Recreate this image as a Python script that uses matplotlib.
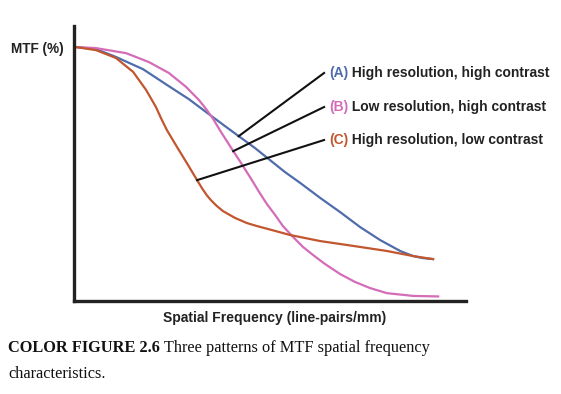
import matplotlib
matplotlib.use('Agg')
import matplotlib.pyplot as plt

# spatial frequency (arbitrary units) and MTF (%)
freq_a = [0.5, 5.6, 10.7, 17.6, 24.2, 29.3, 34.4, 38.5, 42.3, 46.2, 50.0, 53.8, 57.7, 62.8, 67.9,
          73.0, 78.1, 83.2, 86.5, 89.0, 91.6]
mtf_a = [100, 99.2, 96.1, 91.3, 84.6, 79.5, 73.6, 68.9, 64.6, 60.2, 55.5, 50.8, 46.5, 40.6, 35.0,
         29.1, 24.0, 19.7, 17.7, 16.9, 16.5]

freq_b = [0.5, 5.6, 13.3, 19.1, 24.2, 28.6, 31.9, 33.7, 35.5, 37.2, 39.8, 42.3, 44.9, 47.4, 49.2,
          51.3, 53.3, 55.9, 58.4, 61.0, 64.0, 67.9, 71.7, 75.5, 79.8, 86.5, 92.9]
mtf_b = [100, 99.6, 97.6, 94.1, 89.8, 84.3, 79.1, 75.6, 71.7, 67.3, 61.0, 55.1, 48.8, 42.5, 38.2,
         33.9, 29.5, 25.2, 21.3, 18.1, 14.6, 10.6, 7.5, 5.1, 3.1, 2.0, 1.8]

freq_c = [0.5, 5.6, 10.7, 15.1, 18.4, 20.9, 22.2, 23.7, 26.3, 28.8, 31.4, 32.7, 33.9, 35.0, 36.3,
          38.0, 41.1, 44.1, 46.7, 51.3, 55.1, 62.8, 71.2, 79.8, 86.5, 91.6]
mtf_c = [100, 98.8, 95.7, 90.2, 83.1, 76.4, 72.0, 67.3, 60.6, 54.3, 47.6, 44.3, 41.6, 39.6, 37.6,
         35.4, 32.7, 30.7, 29.5, 27.6, 26.0, 23.6, 21.7, 19.7, 17.7, 16.5]

tags = ['(A)', '(B)', '(C)']
labels = ['High resolution, high contrast', 'Low resolution, high contrast', 'High resolution, low contrast']
colors = ['#4f6cab', '#d46cb8', '#c2562f']

# where each pointer touches its curve
pointer_at = [(42.0, 64.9), (40.6, 59.0), (31.4, 47.6)]
label_y = [89.8, 76.4, 63.4]

W, H = 561, 394
fig = plt.figure(figsize=(W / 100, H / 100), dpi=100)
ax = fig.add_axes([74 / W, (H - 301) / H, (466 - 74) / W, (301 - 26) / H])

for f, m, c in zip([freq_a, freq_b, freq_c], [mtf_a, mtf_b, mtf_c], colors):
    ax.plot(f, m, color=c, lw=1.6, solid_joinstyle='round')

ax.set_xlim(0, 100)
ax.set_ylim(0, 108.3)
ax.set_xticks([])
ax.set_yticks([])
for s in ['top', 'right']:
    ax.spines[s].set_visible(False)
for s in ['left', 'bottom']:
    ax.spines[s].set_linewidth(2.4)
    ax.spines[s].set_color('#222222')

# pointer lines and labels
for (px, py), ly, tag, lab, c in zip(pointer_at, label_y, tags, labels, colors):
    ax.plot([px, 63.8], [py, ly], color='#111111', lw=1.5, clip_on=False)
    t = ax.text(65.0, ly, tag, color=c, fontsize=10, fontweight='bold',
                family='Liberation Sans', va='center', ha='left')
    ax.annotate(' ' + lab, xycoords=t, xy=(1, 0.5), va='center', ha='left',
                fontsize=10, fontweight='bold', family='Liberation Sans', color='#222222')

fig.text(11 / W, 1 - 49 / H, 'MTF (%)', fontsize=9.8, fontweight='bold',
         family='Liberation Sans', color='#222222', va='center', ha='left')
fig.text(275 / W, 1 - 318 / H, 'Spatial Frequency (line-pairs/mm)', fontsize=10,
         fontweight='bold', family='Liberation Sans', color='#222222', va='center', ha='center')

# caption: bold part, then the normal text right after it
cap = fig.text(8 / W, 1 - 348 / H, 'COLOR FIGURE 2.6', fontsize=11.8, fontweight='bold',
               family='Liberation Serif', color='#111111', va='center', ha='left')
fig.canvas.draw()
bb = cap.get_window_extent()
fig.text(bb.x1 / W, 1 - 348 / H, ' Three patterns of MTF spatial frequency', fontsize=11.8,
         family='Liberation Serif', color='#111111', va='center', ha='left')
fig.text(8 / W, 1 - 374 / H, 'characteristics.', fontsize=11.8, family='Liberation Serif',
         color='#111111', va='center', ha='left')

fig.savefig('out.png', dpi=100)
